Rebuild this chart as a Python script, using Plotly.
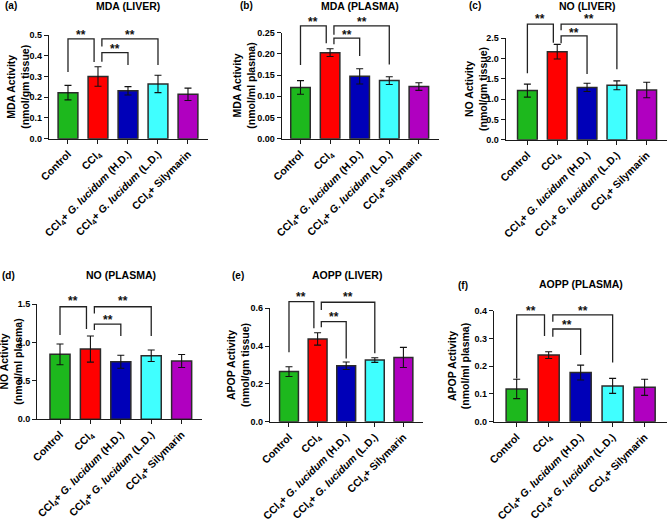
import plotly.graph_objects as go

# ---------------- data ----------------
categories = [
    "Control",
    "CCl<sub>4</sub>",
    "CCl<sub>4</sub>+ <i>G. lucidum</i> (H.D.)",
    "CCl<sub>4</sub>+ <i>G. lucidum</i> (L.D.)",
    "CCl<sub>4</sub>+ Silymarin",
]

mda_liver = [0.222, 0.300, 0.231, 0.264, 0.214]
mda_liver_err = [0.035, 0.047, 0.020, 0.042, 0.030]

mda_plasma = [0.121, 0.203, 0.147, 0.137, 0.123]
mda_plasma_err = [0.016, 0.009, 0.018, 0.009, 0.009]

no_liver = [1.21, 2.17, 1.29, 1.34, 1.225]
no_liver_err = [0.16, 0.18, 0.10, 0.11, 0.19]

no_plasma = [0.845, 0.914, 0.749, 0.827, 0.758]
no_plasma_err = [0.135, 0.170, 0.085, 0.075, 0.085]

aopp_liver = [0.265, 0.438, 0.296, 0.326, 0.340]
aopp_liver_err = [0.026, 0.033, 0.020, 0.012, 0.053]

aopp_plasma = [0.118, 0.240, 0.177, 0.129, 0.124]
aopp_plasma_err = [0.035, 0.012, 0.027, 0.027, 0.029]

# significance comparisons: (group i, group j, bracket top, left leg end, right leg end, star level)
mda_liver_sig = [(0, 1, 0.481, 0.322, 0.370, 0.515),
                 (1, 3, 0.481, 0.444, 0.355, 0.515),
                 (1, 2, 0.415, 0.371, 0.355, 0.447)]
mda_plasma_sig = [(0, 1, 0.266, 0.174, 0.225, 0.282),
                  (1, 3, 0.266, 0.245, 0.175, 0.282),
                  (1, 2, 0.237, 0.223, 0.195, 0.252)]
no_liver_sig = [(0, 1, 2.85, 1.64, 2.39, 3.06),
                (1, 3, 2.85, 2.70, 1.74, 3.06),
                (1, 2, 2.56, 2.38, 1.62, 2.70)]
no_plasma_sig = [(0, 1, 1.464, 1.096, 1.174, 1.573),
                 (1, 3, 1.464, 1.378, 1.083, 1.573),
                 (1, 2, 1.239, 1.161, 1.083, 1.334)]
aopp_liver_sig = [(0, 1, 0.635, 0.367, 0.494, 0.674),
                  (1, 3, 0.632, 0.591, 0.362, 0.674),
                  (1, 2, 0.529, 0.500, 0.335, 0.568)]
aopp_plasma_sig = [(0, 1, 0.385, 0.156, 0.309, 0.409),
                   (1, 3, 0.385, 0.360, 0.213, 0.409),
                   (1, 2, 0.334, 0.306, 0.240, 0.358)]

star_text = "**"

# ---------------- layout / style ----------------
W, H = 668, 520
FONT = "Liberation Sans, Arial, sans-serif"
colors = ["#1DB81D", "#FF0000", "#0000B8", "#40FFFF", "#B000C0"]
AX = "#1a1a1a"

panels = [
    dict(letter="(a)", title="MDA (LIVER)", ylab="MDA Activity<br>(nmol/gm tissue)",
         vals=mda_liver, errs=mda_liver_err, sig=mda_liver_sig,
         ymax=0.5, dtick=0.1, fmt=".1f",
         box=(49, 208, 35, 138.7), xr=(-0.633, 4.667),
         title_xy=(128, 6), letter_xy=(11, 6), ylab_x=18),
    dict(letter="(b)", title="MDA (PLASMA)", ylab="MDA Activity<br>(nmol/ml plasma)",
         vals=mda_plasma, errs=mda_plasma_err, sig=mda_plasma_sig,
         ymax=0.25, dtick=0.05, fmt=".2f",
         box=(281.7, 439, 32.7, 138.7), xr=(-0.635, 4.68),
         title_xy=(360, 6), letter_xy=(246, 6), ylab_x=244),
    dict(letter="(c)", title="NO (LIVER)", ylab="NO Activity<br>(nmol/gm tissue)",
         vals=no_liver, errs=no_liver_err, sig=no_liver_sig,
         ymax=2.5, dtick=0.5, fmt=".1f",
         box=(505.7, 667, 38.3, 139.7), xr=(-0.727, 4.68),
         title_xy=(587, 6), letter_xy=(475, 6), ylab_x=476),
    dict(letter="(d)", title="NO (PLASMA)", ylab="NO Activity<br>(nmol/ml plasma)",
         vals=no_plasma, errs=no_plasma_err, sig=no_plasma_sig,
         ymax=1.5, dtick=0.5, fmt=".1f",
         box=(37.3, 201.7, 304, 419.3), xr=(-0.747, 4.66),
         title_xy=(121, 275), letter_xy=(8, 275), ylab_x=11),
    dict(letter="(e)", title="AOPP (LIVER)", ylab="APOP Activity<br>(nmol/gm tissue)",
         vals=aopp_liver, errs=aopp_liver_err, sig=aopp_liver_sig,
         ymax=0.6, dtick=0.2, fmt=".1f",
         box=(270, 423, 308.3, 421.7), xr=(-0.664, 4.685),
         title_xy=(347, 275), letter_xy=(238, 275), ylab_x=238),
    dict(letter="(f)", title="AOPP (PLASMA)", ylab="APOP Activity<br>(nmol/ml plasma)",
         vals=aopp_plasma, errs=aopp_plasma_err, sig=aopp_plasma_sig,
         ymax=0.4, dtick=0.1, fmt=".1f",
         box=(494, 667, 310.7, 421.7), xr=(-0.709, 4.70),
         title_xy=(581, 284), letter_xy=(463, 285), ylab_x=459),
]

fig = go.Figure()
layout = dict(
    width=W, height=H,
    margin=dict(l=0, r=0, t=0, b=0),
    paper_bgcolor="white", plot_bgcolor="rgba(0,0,0,0)",
    showlegend=False, template="none",
    font=dict(family=FONT, color="black"),
    annotations=[],
)

xs_idx = list(range(len(categories)))
EXT = 34  # extra px above axis for brackets

for k, p in enumerate(panels, start=1):
    x0, x1, ytop, ybot = p["box"]
    xd = [x0 / W, x1 / W]
    yd = [1 - ybot / H, 1 - ytop / H]
    yd_ext = [1 - ybot / H, min(1.0, 1 - (ytop - EXT) / H)]
    ymax_ext = p["ymax"] * (yd_ext[1] - yd_ext[0]) / (yd[1] - yd[0])
    ko = k + 6

    fig.add_trace(go.Bar(
        x=xs_idx, y=p["vals"], width=0.66,
        marker=dict(color=colors, line=dict(color="#2b2b2b", width=1.5)),
        error_y=dict(type="data", array=p["errs"], color="#111", thickness=1.1, width=3.5),
        xaxis=f"x{k}", yaxis=f"y{k}", hoverinfo="skip",
    ))

    bx, by = [], []
    for (i, j, top, lb, rb, sy) in p["sig"]:
        xl = i + (0.13 if i == 1 else 0.0)
        xrr = j - (0.13 if j == 1 else 0.0)
        bx += [xl, xl, xrr, xrr, None]
        by += [lb, top, top, rb, None]
        layout["annotations"].append(dict(
            x=(xl + xrr) / 2, y=sy, xref=f"x{ko}", yref=f"y{ko}",
            text=star_text, showarrow=False, xanchor="center", yanchor="middle",
            yshift=-3, font=dict(size=12, family=FONT, weight="bold", color="#111"),
        ))
    fig.add_trace(go.Scatter(
        x=bx, y=by, mode="lines", line=dict(color="#222", width=1.3),
        xaxis=f"x{ko}", yaxis=f"y{ko}", hoverinfo="skip", connectgaps=False,
    ))

    n = int(round(p["ymax"] / p["dtick"]))
    tv = [round(p["dtick"] * t, 6) for t in range(n + 1)]

    layout[f"xaxis{k}"] = dict(
        domain=xd, range=list(p["xr"]), anchor=f"y{k}",
        tickmode="array", tickvals=xs_idx, ticktext=categories, tickangle=-45,
        ticks="outside", ticklen=4, tickwidth=1.3, tickcolor=AX,
        showline=True, linewidth=1.3, linecolor=AX,
        showgrid=False, zeroline=False, automargin=False, fixedrange=True,
        tickfont=dict(size=10.5, family=FONT, weight="bold", color="black"),
    )
    layout[f"yaxis{k}"] = dict(
        domain=yd, range=[0, p["ymax"]], anchor=f"x{k}",
        tickmode="array", tickvals=tv, tickformat=p["fmt"],
        ticks="outside", ticklen=4, tickwidth=1.3, tickcolor=AX,
        showline=True, linewidth=1.3, linecolor=AX,
        showgrid=False, zeroline=False, automargin=False, fixedrange=True,
        tickfont=dict(size=9, family=FONT, weight="bold", color="black"),
    )
    layout[f"xaxis{ko}"] = dict(domain=xd, range=list(p["xr"]), anchor=f"y{ko}",
                                visible=False, fixedrange=True)
    layout[f"yaxis{ko}"] = dict(domain=yd_ext, range=[0, ymax_ext], anchor=f"x{ko}",
                                visible=False, fixedrange=True)

    tx, ty = p["title_xy"]
    layout["annotations"].append(dict(
        x=tx / W, y=1 - ty / H, xref="paper", yref="paper", text=p["title"],
        showarrow=False, xanchor="center", yanchor="middle",
        font=dict(size=10.5, family=FONT, weight="bold", color="black")))
    lx, ly = p["letter_xy"]
    layout["annotations"].append(dict(
        x=lx / W, y=1 - ly / H, xref="paper", yref="paper", text=p["letter"],
        showarrow=False, xanchor="center", yanchor="middle",
        font=dict(size=10, family=FONT, weight="bold", color="black")))
    layout["annotations"].append(dict(
        x=p["ylab_x"] / W, y=1 - (ytop + ybot) / 2 / H, xref="paper", yref="paper",
        text=p["ylab"], textangle=-90, showarrow=False,
        xanchor="center", yanchor="middle",
        font=dict(size=10.5, family=FONT, weight="bold", color="black")))

fig.update_layout(**layout)
fig.write_html("out.html", config={"displayModeBar": False},
               post_script="document.body.style.margin='0px';")
